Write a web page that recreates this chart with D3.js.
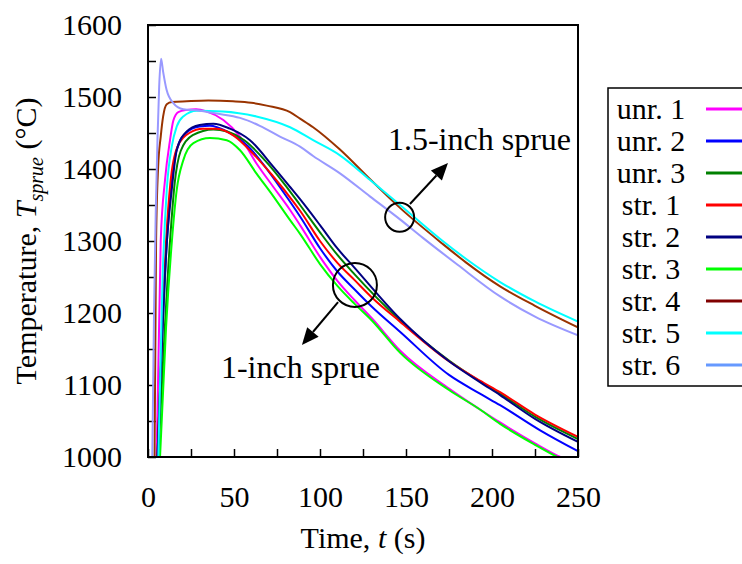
<!DOCTYPE html>
<html>
<head>
<meta charset="utf-8">
<script src="https://cdn.jsdelivr.net/npm/d3@7"></script>
<style>
  html, body { margin: 0; padding: 0; background: #fff; }
  svg { display: block; }
  text { font-family: "Liberation Serif", "Times New Roman", Times, serif; fill: #000; }
</style>
</head>
<body>
<div id="chart"></div>
<script>
// Sprue temperature histories, [time (s), temperature (°C)]
const unr1 = [[5,1000],[7.4,1300],[9.9,1385],[12.8,1440],[14.7,1467],[17.6,1479],[22.5,1482],[28,1483],[34,1480],[43.8,1468],[53.5,1445],[63,1408],[72.9,1375],[82.6,1343],[88.4,1322],[100,1278],[110,1245],[120,1218],[130,1193],[146.5,1148],[175,1095],[193,1066],[204.7,1048],[225,1019],[238,1002],[250,990]];
const unr2 = [[5.5,1000],[11,1300],[13.5,1375],[16.5,1425],[22,1450],[30,1459],[36,1460],[46,1452],[58,1432],[70,1397],[81,1360],[88.4,1334],[100,1290],[110,1258],[120,1233],[130,1209],[146.5,1174],[175,1114],[193,1088],[204.7,1072],[228,1037],[250,1008]];
const unr3 = [[6,1000],[12.8,1300],[15.5,1380],[19,1425],[26,1447],[38,1455],[46,1452],[56,1440],[68,1412],[80,1377],[88.4,1350],[100,1312],[110,1281],[120,1254],[146.5,1190],[175,1134],[193,1105],[204.7,1088],[225,1056],[250,1025]];
const str1 = [[5.5,1000],[10.5,1300],[13,1380],[17,1430],[24,1450],[32,1456],[40,1456],[50,1446],[60,1424],[72,1392],[85,1353],[88.4,1342],[100,1300],[110,1270],[120,1246],[130,1222],[146.5,1188],[175,1133],[193,1106],[204.7,1090],[225,1059],[250,1028]];
const str2 = [[5.5,1000],[11,1300],[13.8,1371],[16.7,1426],[22.5,1452],[30,1461],[38,1463],[47.7,1456],[59.3,1440],[72.9,1403],[82.6,1375],[88.4,1358],[100,1322],[110,1290],[120,1263],[146.5,1192],[175,1133],[193,1104],[204.7,1086],[225,1053],[250,1021]];
const str3 = [[7,1000],[10.5,1180],[13.9,1300],[16.7,1371],[20.5,1412],[26.4,1436],[36,1443],[45.8,1440],[53.5,1426],[63,1394],[72.9,1362],[82.6,1329],[88.4,1310],[100,1268],[110,1238],[120,1213],[130,1190],[146.5,1145],[175,1093],[193,1066],[204.7,1046],[225,1017],[238,1000],[250,987]];
const str4 = [[3.8,1000],[4.7,1300],[5.9,1403],[7.4,1445],[8.8,1473],[10.9,1490],[14,1493],[22.5,1494],[35,1495],[49.4,1494],[60,1492],[69,1488],[82.6,1479],[88.4,1470],[96,1458],[111.6,1427],[129,1386],[146.5,1346],[170.8,1297],[185,1270],[204.7,1237],[225,1210],[250,1180]];
const str5 = [[6,1000],[8.5,1250],[10.9,1371],[13.8,1431],[16.7,1459],[20.5,1473],[28.3,1481],[43.6,1480],[63,1473],[82.6,1458],[96,1440],[111.6,1419],[129,1385],[146.5,1350],[170.8,1301],[185,1275],[204.7,1243],[225,1216],[250,1188]];
const str6 = [[2.5,1000],[3.5,1200],[4.5,1340],[5.5,1440],[6.5,1515],[7.6,1553],[8.8,1535],[10.8,1510],[14.6,1492],[20.5,1483],[30,1481],[40,1477],[53.5,1471],[65,1460],[76.7,1445],[88.4,1431],[96,1418],[111.6,1394],[129,1362],[146.5,1330],[160,1304],[180,1267],[204.7,1223],[225,1195],[250,1169]];

const seriesNames  = ["unr. 1","unr. 2","unr. 3","str. 1","str. 2","str. 3","str. 4","str. 5","str. 6"];
const seriesData   = [unr1, unr2, unr3, str1, str2, str3, str4, str5, str6];
const seriesColors = ["#ff00ff","#0000ff","#008000","#ff0000","#000080","#00ff00","#993300","#00ffff","#9999ff"];
const legendColors = ["#ff00ff","#0000ff","#008000","#ff0000","#000080","#00ff00","#800000","#00ffff","#6699ff"];

const xTicks = d3.range(0, 251, 25);
const yTicks = d3.range(1000, 1601, 50);

const W = 742, H = 564;
const svg = d3.select("#chart").append("svg").attr("width", W).attr("height", H);

const x = d3.scaleLinear().domain([0, 250]).range([148, 578]);
const y = d3.scaleLinear().domain([1000, 1600]).range([457, 25]);
const FS = 30;

svg.append("defs").append("clipPath").attr("id", "plotclip")
  .append("rect").attr("x", x(0)).attr("y", y(1600))
  .attr("width", x(250) - x(0)).attr("height", y(1000) - y(1600));

// axes with inward ticks
const yAxis = d3.axisLeft(y).tickValues(yTicks).tickSize(-8).tickPadding(26)
  .tickFormat(d => d % 100 === 0 ? d : "");
const xAxis = d3.axisBottom(x).tickValues(xTicks).tickSize(-8).tickPadding(29)
  .tickFormat(d => d % 50 === 0 ? d : "");

const gy = svg.append("g").attr("transform", `translate(${x(0)},0)`).call(yAxis);
const gx = svg.append("g").attr("transform", `translate(0,${y(1000)})`).call(xAxis);
[gx, gy].forEach(g => {
  g.attr("font-family", null).attr("font-size", null);
  g.select(".domain").remove();
  g.selectAll(".tick line").attr("stroke", "#000").attr("stroke-width", 1.5);
  g.selectAll(".tick text").attr("font-size", FS).attr("fill", "#000");
});

// temperature curves
const line = d3.line().x(d => x(d[0])).y(d => y(d[1])).curve(d3.curveMonotoneX);
svg.append("g").attr("clip-path", "url(#plotclip)")
  .selectAll("path").data(seriesData).join("path")
  .attr("d", line)
  .attr("fill", "none")
  .attr("stroke", (d, i) => seriesColors[i])
  .attr("stroke-width", 2)
  .attr("stroke-linejoin", "round");

// plot frame
svg.append("rect")
  .attr("x", x(0)).attr("y", y(1600))
  .attr("width", x(250) - x(0)).attr("height", y(1000) - y(1600))
  .attr("fill", "none").attr("stroke", "#000").attr("stroke-width", 2);

// axis titles
const yt = svg.append("text")
  .attr("transform", `translate(36,${(y(1000) + y(1600)) / 2}) rotate(-90)`)
  .attr("text-anchor", "middle").attr("font-size", FS);
yt.append("tspan").text("Temperature, ");
yt.append("tspan").attr("font-style", "italic").text("T");
yt.append("tspan").attr("font-style", "italic").attr("font-size", 20).attr("dy", 7).text("sprue");
yt.append("tspan").attr("dy", -7).text(" (°C)");

const xt = svg.append("text")
  .attr("x", (x(0) + x(250)) / 2).attr("y", 548)
  .attr("text-anchor", "middle").attr("font-size", FS);
xt.append("tspan").text("Time, ");
xt.append("tspan").attr("font-style", "italic").text("t");
xt.append("tspan").text(" (s)");

// sprue annotations: circle, arrow, label
const annCircles = [[120.3, 1239, 22], [146.3, 1333, 14.5]];
const annArrows = [[110.5, 1215, 89.5, 1155.6], [152.3, 1351.4, 174.4, 1408.3]];
const annLabels = [["1-inch sprue", 42.4, 1109.7], ["1.5-inch sprue", 139.5, 1426.4]];

svg.selectAll(".ann-c").data(annCircles).join("circle")
  .attr("cx", d => x(d[0])).attr("cy", d => y(d[1])).attr("r", d => d[2])
  .attr("fill", "none").attr("stroke", "#000").attr("stroke-width", 2);

annArrows.forEach(a => {
  const x1 = x(a[0]), y1 = y(a[1]), x2 = x(a[2]), y2 = y(a[3]);
  const ang = Math.atan2(y2 - y1, x2 - x1);
  const L = 17, hw = 7.5;
  const bx = x2 - L * Math.cos(ang), by = y2 - L * Math.sin(ang);
  svg.append("line").attr("x1", x1).attr("y1", y1).attr("x2", bx).attr("y2", by)
    .attr("stroke", "#000").attr("stroke-width", 2);
  const px = -Math.sin(ang) * hw, py = Math.cos(ang) * hw;
  svg.append("polygon")
    .attr("points", [[x2, y2], [bx + px, by + py], [bx - px, by - py]].map(p => p.join(",")).join(" "))
    .attr("fill", "#000");
});

svg.selectAll(".ann-t").data(annLabels).join("text")
  .attr("x", d => x(d[1])).attr("y", d => y(d[2]))
  .attr("font-size", 32).text(d => d[0]);

// legend
const lg = svg.append("g");
lg.append("rect").attr("x", 608).attr("y", 88).attr("width", 200).attr("height", 298)
  .attr("fill", "#fff").attr("stroke", "#000").attr("stroke-width", 1.5);
seriesNames.forEach((name, i) => {
  const yy = 109 + 32 * i;
  lg.append("text").attr("x", 651).attr("y", yy + 10).attr("text-anchor", "middle")
    .attr("font-size", FS).text(name);
  lg.append("line").attr("x1", 706).attr("x2", 750).attr("y1", yy).attr("y2", yy)
    .attr("stroke", legendColors[i]).attr("stroke-width", 3);
});
</script>
</body>
</html>
